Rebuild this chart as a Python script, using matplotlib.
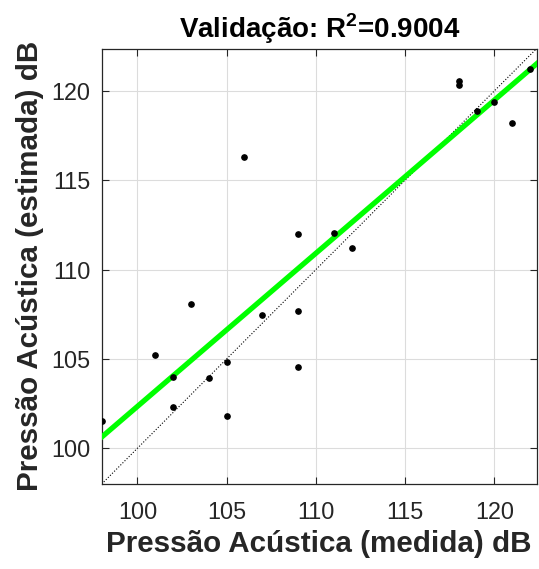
import numpy as np
import matplotlib
matplotlib.use('Agg')
import matplotlib.pyplot as plt

# pressão medida x estimada (dB)
medida = [98, 101, 102, 102, 103, 104, 105, 105, 106, 107, 109, 109, 109,
          111, 112, 118, 118, 119, 120, 121, 122]
estimada = [101.5, 105.2, 104.0, 102.3, 108.05, 103.95, 104.8, 101.8, 116.3,
            107.45, 112.0, 107.7, 104.55, 112.05, 111.2, 120.55, 120.35,
            118.85, 119.4, 118.2, 121.25]
titulo = 'Validação: $\\mathrm{R}^{\\mathrm{2}}$=0.9004'
lim = [98, 122.37]
ticks = [100, 105, 110, 115, 120]

plt.rcParams['font.family'] = ['Liberation Sans', 'DejaVu Sans']
plt.rcParams['mathtext.fontset'] = 'custom'
plt.rcParams['mathtext.rm'] = 'Liberation Sans:bold'

fig = plt.figure(figsize=(5.39, 5.69), dpi=100)
ax = fig.add_axes([101.7 / 539, 1 - 484 / 569, 435 / 539, 435.5 / 569])

x = np.array(medida)
y = np.array(estimada)
p = np.polyfit(x, y, 1)
xx = np.array(lim)

ax.plot(xx, xx, ':', color='black', lw=0.8, zorder=2)
ax.plot(xx, np.polyval(p, xx), color='#00ff00', lw=3.8, zorder=3)
ax.plot(x, y, 'o', color='black', ms=3.8, zorder=4)

ax.set_xlim(lim)
ax.set_ylim(lim)
ax.set_xticks(ticks)
ax.set_yticks(ticks)
ax.grid(True, color='#dcdcdc', lw=0.8)
ax.set_axisbelow(True)
ax.tick_params(direction='in', length=5, width=0.8, top=True, right=True,
               labelsize=16.8, colors='#262626')
ax.tick_params(axis='x', pad=12)
ax.tick_params(axis='y', pad=7.9)
for s in ax.spines.values():
    s.set_color('#262626')
    s.set_linewidth(0.9)

ax.set_title(titulo, fontsize=20, fontweight='bold', pad=7.2)
ax.set_xlabel('Pressão Acústica (medida) dB', fontsize=21.3, fontweight='bold',
              color='#262626')
ax.set_ylabel('Pressão Acústica (estimada) dB', fontsize=21.3, fontweight='bold',
              color='#262626')
ax.xaxis.set_label_coords(0.5, -0.1046)
ax.yaxis.set_label_coords(-0.1336, 0.5)

fig.savefig('out.png', dpi=100)
